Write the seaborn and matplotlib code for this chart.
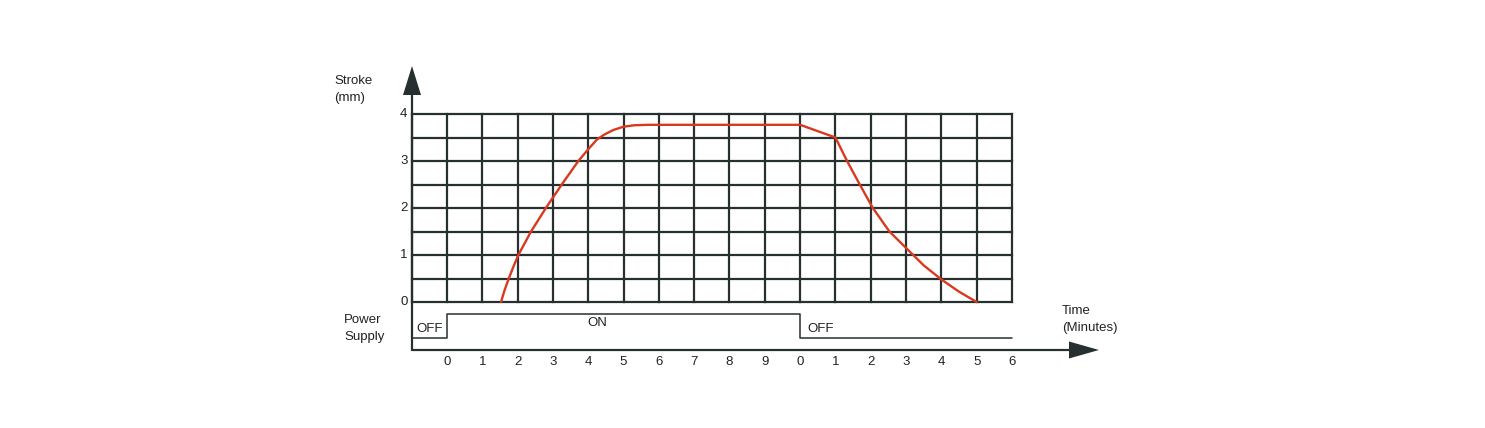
import matplotlib
matplotlib.use("Agg")
import matplotlib.pyplot as plt
import seaborn as sns
import pandas as pd
import numpy as np

# ---------------- data ----------------
stroke_ticks = [0, 1, 2, 3, 4]
time_labels = ["0", "1", "2", "3", "4", "5", "6", "7", "8", "9",
               "0", "1", "2", "3", "4", "5", "6"]
curve_time = [1.53, 1.63, 1.75, 1.88, 2.02, 2.38, 2.8, 3.25, 3.72, 4.0, 4.25, 4.45, 4.71, 5.0, 5.3, 5.7, 6.0,
              10.0, 11.0, 11.33, 11.69, 12.06, 12.53, 13.0, 13.5, 14.0, 14.5, 15.0]
curve_stroke = [0.0, 0.25, 0.5, 0.75, 1.0, 1.5, 2.0, 2.5, 3.0, 3.25, 3.46, 3.56, 3.66, 3.73, 3.76, 3.77, 3.77,
                3.77, 3.5, 3.0, 2.5, 2.0, 1.5, 1.15, 0.78, 0.48, 0.22, 0.0]
power_edges = [-1, 0, 10, 16]
power_state = ["OFF", "ON", "OFF"]

# ---------------- layout ----------------
W, H = 1485, 428
X0PX, XU = 447.0, 35.31      # pixel of time position 0, pixels per unit
Y0PX, YU = 302.0, 47.0       # pixel row of stroke 0, pixels per mm

def px(x):
    return (x - X0PX) / XU

def py(y):
    return (Y0PX - y) / YU

GRID = "#263030"
RED = "#d8391f"
TXT = "#222222"

sns.set_theme(style="white")
plt.rcParams["font.family"] = ["Liberation Sans", "DejaVu Sans"]
FS = 9.5

fig = plt.figure(figsize=(W / 100, H / 100), dpi=100)
ax = fig.add_axes([0, 0, 1, 1])
ax.set_xlim(px(0), px(W))
ax.set_ylim(py(H), py(0))
ax.set_axis_off()

# grid
xmin, xmax = -1, len(time_labels) - 1
for xv in range(xmin, xmax + 1):
    ax.plot([xv, xv], [0, 4], color=GRID, lw=1.6, solid_capstyle="projecting", zorder=1)
for yv in np.arange(0, 4.01, 0.5):
    ax.plot([xmin, xmax], [yv, yv], color=GRID, lw=1.6, solid_capstyle="projecting", zorder=1)

# axes lines
y_axis_bottom = py(350)
ax.plot([xmin, xmin], [y_axis_bottom, py(94)], color=GRID, lw=1.6, zorder=2)
ax.plot([xmin, px(1070)], [y_axis_bottom, y_axis_bottom], color=GRID, lw=1.6, zorder=2)
# arrows
ax.fill([px(403), px(421), px(412)], [py(95), py(95), py(66)], color=GRID, lw=0, zorder=3)
ax.fill([px(1069), px(1069), px(1099)], [py(341.5), py(358.5), py(350)], color=GRID, lw=0, zorder=3)

# stroke curve
df = pd.DataFrame({"time": curve_time, "stroke": curve_stroke})
sns.lineplot(data=df, x="time", y="stroke", ax=ax, color=RED, lw=1.7,
             sort=False, estimator=None, zorder=4, solid_joinstyle="round")

# power supply
level = {"OFF": py(338), "ON": py(314)}
ps_x, ps_y = [], []
for i, st in enumerate(power_state):
    ps_x += [power_edges[i], power_edges[i + 1]]
    ps_y += [level[st], level[st]]
ps_df = pd.DataFrame({"t": ps_x, "v": ps_y})
sns.lineplot(data=ps_df, x="t", y="v", ax=ax, color=GRID, lw=1.1,
             sort=False, estimator=None, zorder=2)

ax.text(px(416.5), py(329.5), "OFF", fontsize=FS, ha="left", va="center", color=TXT)
ax.text(px(597), py(323), "ON", fontsize=FS, ha="center", va="center", color=TXT)
ax.text(px(807), py(329), "OFF", fontsize=FS, ha="left", va="center", color=TXT)

# tick labels
for v in stroke_ticks:
    ax.text(px(407.5), v, str(v), fontsize=FS, ha="right", va="center", color=TXT)
for i, lab in enumerate(time_labels):
    ax.text(i, py(362), lab, fontsize=FS, ha="center", va="center", color=TXT)

# axis titles
ax.text(px(334), py(81), "Stroke", fontsize=FS, ha="left", va="center", color=TXT)
ax.text(px(334), py(98), "(mm)", fontsize=FS, ha="left", va="center", color=TXT)
ax.text(px(344), py(320), "Power", fontsize=FS, ha="left", va="center", color=TXT)
ax.text(px(344), py(337), "Supply", fontsize=FS, ha="left", va="center", color=TXT)
ax.text(px(1062), py(311.5), "Time", fontsize=FS, ha="left", va="center", color=TXT)
ax.text(px(1062), py(327.5), "(Minutes)", fontsize=FS, ha="left", va="center", color=TXT)

fig.savefig("out.png", dpi=100, facecolor="white")
